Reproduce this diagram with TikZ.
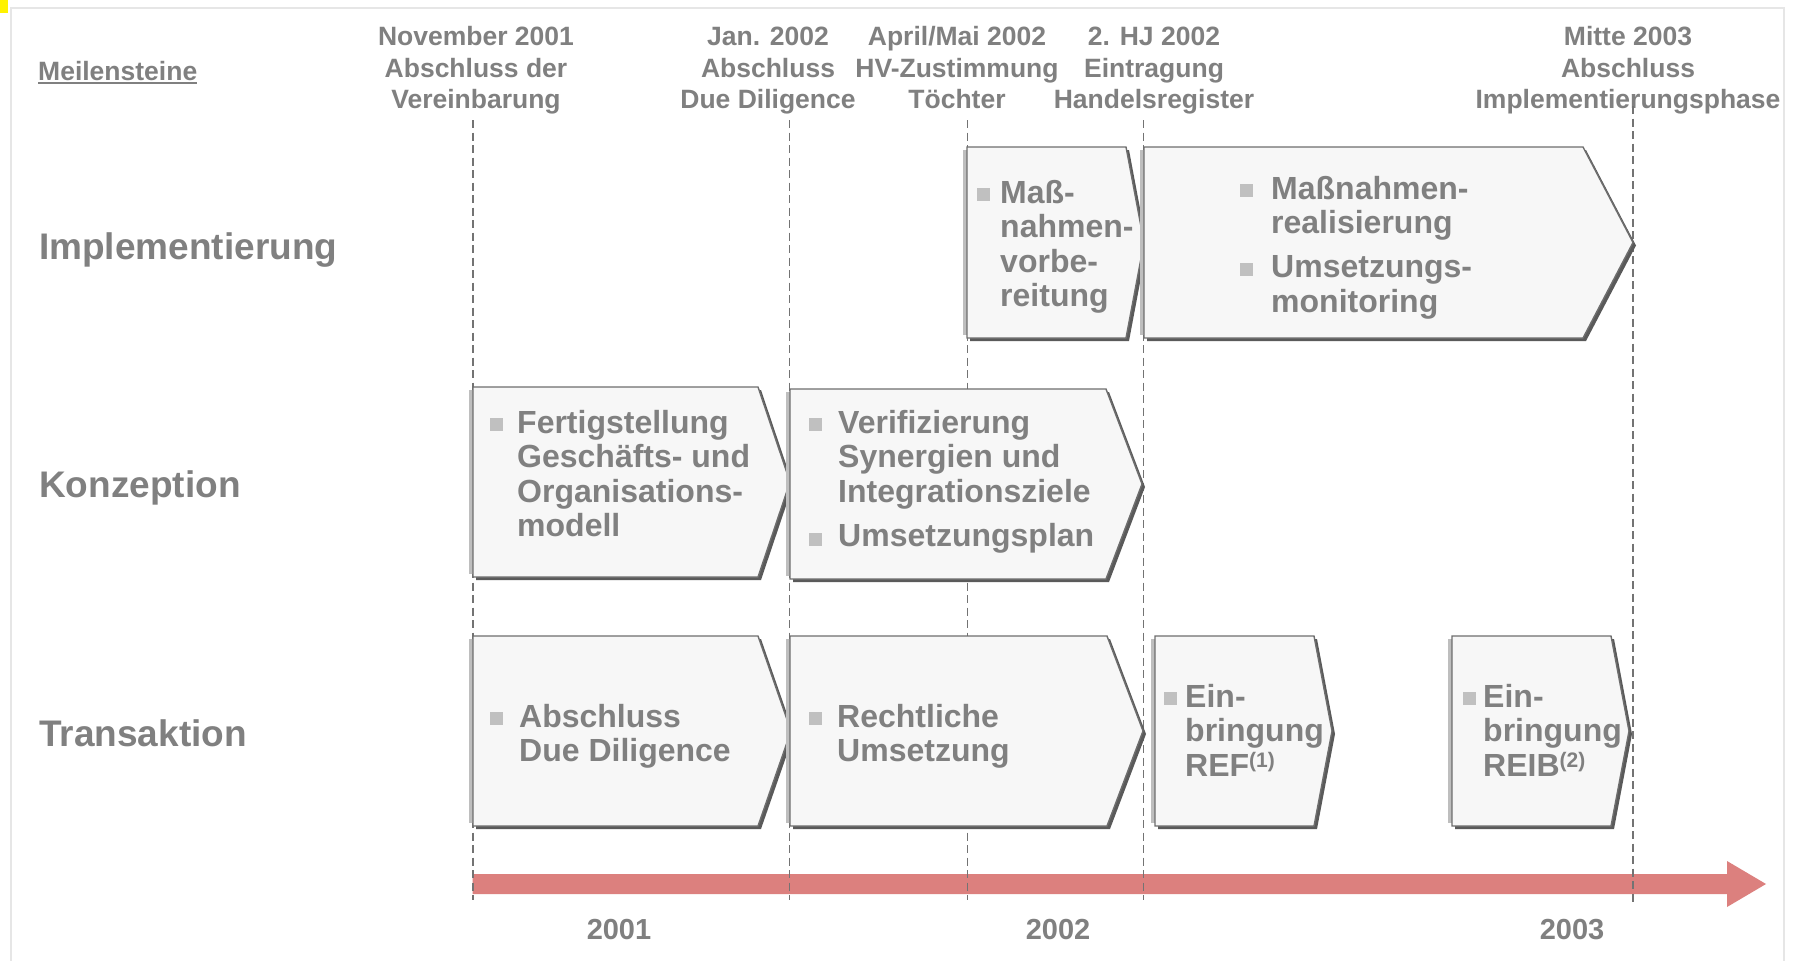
\documentclass[tikz,border=0pt]{standalone}
\usepackage{fontspec}
\setmainfont{Liberation Sans}
\definecolor{txt}{RGB}{128,128,128}
\definecolor{boxfill}{RGB}{247,247,247}
\definecolor{boxline}{RGB}{110,110,110}
\definecolor{shadowc}{RGB}{90,90,90}
\definecolor{stripc}{RGB}{190,190,190}
\definecolor{bulletc}{RGB}{192,192,192}
\definecolor{arrowc}{RGB}{220,128,126}
\definecolor{framec}{RGB}{230,230,230}
\definecolor{dashc}{RGB}{115,115,115}
\newcommand\chev[5]{%
 \fill[shadowc] ({#1+3},{#2+3}) -- ({#3+3},{#2+3}) -- ({#4+3},{(#2+#5)/2+3}) -- ({#3+3},{#5+3}) -- ({#1+3},{#5+3}) -- cycle;
 \draw[stripc, line width=4pt] ({#1-2.5},{#2+3}) -- ({#1-2.5},{#5-3});
 \filldraw[fill=boxfill, draw=boxline, line width=1.4pt, line join=miter] (#1,#2) -- (#3,#2) -- (#4,{(#2+#5)/2}) -- (#3,#5) -- (#1,#5) -- cycle;}
\newcommand\bulsq[2]{\fill[bulletc] (#1,{#2-2}) rectangle ++(13,-13);}
\newcommand\supr[1]{\raisebox{9pt}{\fontsize{21}{21}\selectfont #1}}
\tikzset{
 hdr/.style={font=\fontsize{26.5}{31.5}\selectfont\bfseries, text=txt, align=center, inner sep=0pt, anchor=north},
 rowlab/.style={font=\fontsize{37}{40}\selectfont\bfseries, text=txt, anchor=base west, inner sep=0pt},
 btxt/.style={font=\fontsize{32}{34.5}\selectfont\bfseries, text=txt, align=left, anchor=north west, inner sep=0pt},
 yr/.style={font=\fontsize{29}{30}\selectfont\bfseries, text=txt, anchor=base, inner sep=0pt},
 dashln/.style={draw=dashc, line width=1.5pt, dash pattern=on 8pt off 4.5pt}
}
\begin{document}
\begin{tikzpicture}[x=1pt,y=-1pt]
\useasboundingbox (0,0) rectangle (1794,961);
\fill[white] (0,0) rectangle (1794,961);
\draw[framec, line width=2pt] (11,961) -- (11,8) -- (1784,8) -- (1784,961);
\fill[yellow] (0,0) rectangle (8,13);

% time arrow
\fill[arrowc] (472.5,874) -- (1727,874) -- (1727,861) -- (1766,884) -- (1727,907) -- (1727,894) -- (472.5,894) -- cycle;

% milestones
\node[font=\fontsize{26.5}{31.5}\selectfont\bfseries, text=txt, anchor=base west, inner sep=0pt] (ms) at (38,80) {Meilensteine};
\draw[txt, line width=2pt] ([yshift=-3pt]ms.base west) -- ([yshift=-3pt]ms.base east);
\node[hdr] (h1) at (476,25.5) {\rule{0pt}{20pt}November 2001\\Abschluss der\\Vereinbarung};
\node[hdr] (h2) at (768,25.5) {\rule{0pt}{20pt}Jan. 2002\\Abschluss\\Due Diligence};
\node[hdr] (h3) at (957,25.5) {\rule{0pt}{20pt}April/Mai 2002\\HV-Zustimmung\\Töchter};
\node[hdr] (h4) at (1154,25.5) {\rule{0pt}{20pt}2. HJ 2002\\Eintragung\\Handelsregister};
\node[hdr] (h5) at (1628,25.5) {\rule{0pt}{20pt}Mitte 2003\\Abschluss\\Implementierungsphase};

% dashed milestone lines
\draw[dashln] (473,120) -- (473,900);
\draw[dashln] (789.5,120) -- (789.5,900);
\draw[dashln] (967.5,120) -- (967.5,900);
\draw[dashln] (1143.5,120) -- (1143.5,900);
\draw[dashln] (1633,106) -- (1633,903);

% row labels
\node[rowlab] (r1) at (39,259) {Implementierung};
\node[rowlab] (r2) at (39,497) {Konzeption};
\node[rowlab] (r3) at (39,746) {Transaktion};

% Implementierung
\chev{967}{147}{1126}{1144}{338}
\chev{1144}{147}{1583}{1633}{338}
\bulsq{977}{203}
\node[btxt] (ia) at (1000,178) {\rule{0pt}{25pt}Maß-\\nahmen-\\vorbe-\\reitung};
\bulsq{1240}{199}
\bulsq{1240}{278}
\node[btxt] (ib) at (1271,174) {\rule{0pt}{25pt}Maßnahmen-\\realisierung\\[9.5pt]Umsetzungs-\\monitoring};

% Konzeption
\chev{473}{387}{758}{790}{577}
\chev{790}{389}{1106}{1142}{579}
\bulsq{490}{433}
\node[btxt] (ka) at (517,408) {\rule{0pt}{25pt}Fertigstellung\\Geschäfts- und\\Organisations-\\modell};
\bulsq{809}{433}
\bulsq{809}{548}
\node[btxt] (kb) at (838,408) {\rule{0pt}{25pt}Verifizierung\\Synergien und\\Integrationsziele\\[10pt]Umsetzungsplan};

% Transaktion
\chev{473}{636}{758}{791}{826}
\chev{790}{636}{1107}{1143}{826}
\chev{1155}{636}{1314}{1332}{826}
\chev{1452}{636}{1611}{1629}{826}
\bulsq{490}{727}
\node[btxt] (ta) at (519,702) {\rule{0pt}{25pt}Abschluss\\Due Diligence};
\bulsq{809}{727}
\node[btxt] (tb) at (837,702) {\rule{0pt}{25pt}Rechtliche\\Umsetzung};
\bulsq{1164}{707}
\node[btxt] (tc) at (1185,682) {\rule{0pt}{25pt}Ein-\\bringung\\REF\supr{(1)}};
\bulsq{1463}{707}
\node[btxt] (td) at (1483,682) {\rule{0pt}{25pt}Ein-\\bringung\\REIB\supr{(2)}};

% years
\node[yr] (y1) at (619,939) {2001};
\node[yr] (y2) at (1058,939) {2002};
\node[yr] (y3) at (1572,939) {2003};
\end{tikzpicture}
\end{document}
